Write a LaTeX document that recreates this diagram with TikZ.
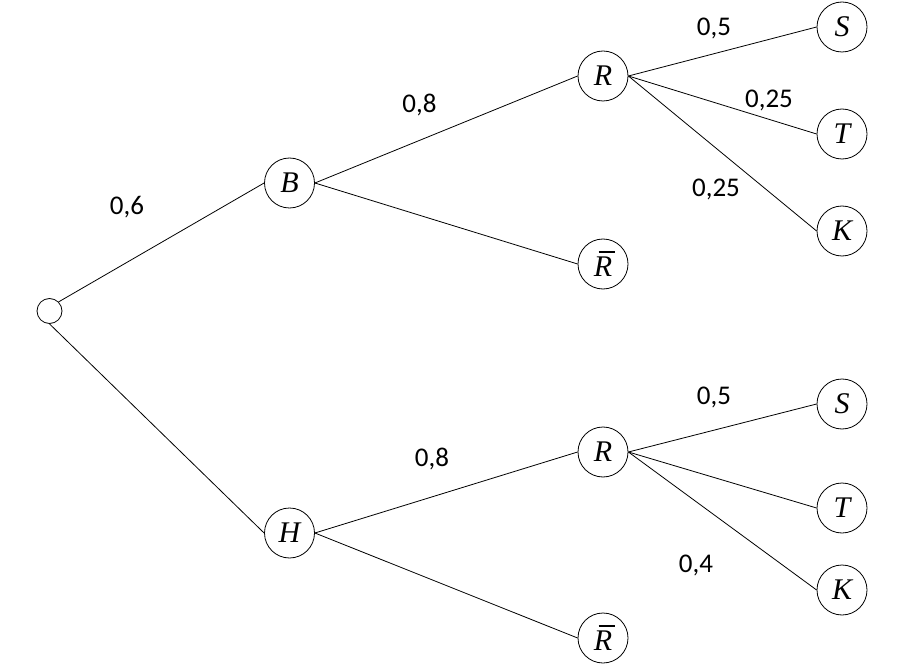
\documentclass[tikz,border=0pt]{standalone}
\usepackage{fontspec}
\newfontfamily\probfont{Carlito}
\newfontfamily\eventfont{Liberation Serif}
\usepackage{tikz}
\newcommand\barred[1]{\rlap{\hspace{0.16em}\rule[0.78em]{0.55em}{0.06em}}#1}

\begin{document}
\begin{tikzpicture}[x=1pt,y=-1pt,
  event/.style={draw,circle,line width=0.8pt,minimum size=50pt,inner sep=0pt,
    font=\eventfont\fontsize{30}{34}\selectfont\itshape},
  prob/.style={anchor=base,font=\probfont\fontsize{27}{32}\selectfont},
  branch/.style={line width=0.8pt}]
\useasboundingbox (0,0) rectangle (908,671);
%% nodes
\node[draw,circle,line width=0.8pt,minimum size=25pt,inner sep=0pt] (root) at (49.5,311) {};
\node[event] (B) at (289.5,183) {B};
\node[event] (H) at (289.5,533) {H};
\node[event] (BR) at (603,76) {R};
\node[event] (BRb) at (603,264) {\barred{R}};
\node[event] (HR) at (603,452) {R};
\node[event] (HRb) at (603,638) {\barred{R}};
\node[event] (BS) at (842,27) {S};
\node[event] (BT) at (842,134) {T};
\node[event] (BK) at (842,231) {K};
\node[event] (HS) at (842,404) {S};
\node[event] (HT) at (842,508) {T};
\node[event] (HK) at (842,590) {K};
%%------------
\draw[branch] (root.north east) -- (B.west);
\draw[branch] (root.south) -- (H.west);
\draw[branch] (B.east) -- (BR.west);
\draw[branch] (B.east) -- (BRb.west);
\draw[branch] (H.east) -- (HR.west);
\draw[branch] (H.east) -- (HRb.west);
\foreach \leaf in {BS,BT,BK} \draw[branch] (BR.east) -- (\leaf.west);
\foreach \leaf in {HS,HT,HK} \draw[branch] (HR.east) -- (\leaf.west);
%%------------
\node[prob] (p1) at (127,215) {0,6};
\node[prob] (p2) at (419.5,113) {0,8};
\node[prob] (p3) at (714,36) {0,5};
\node[prob] (p4) at (769,108) {0,25};
\node[prob] (p5) at (716,197) {0,25};
\node[prob] (p6) at (432,466) {0,8};
\node[prob] (p7) at (714,404) {0,5};
\node[prob] (p8) at (696,572) {0,4};
\end{tikzpicture}
\end{document}
